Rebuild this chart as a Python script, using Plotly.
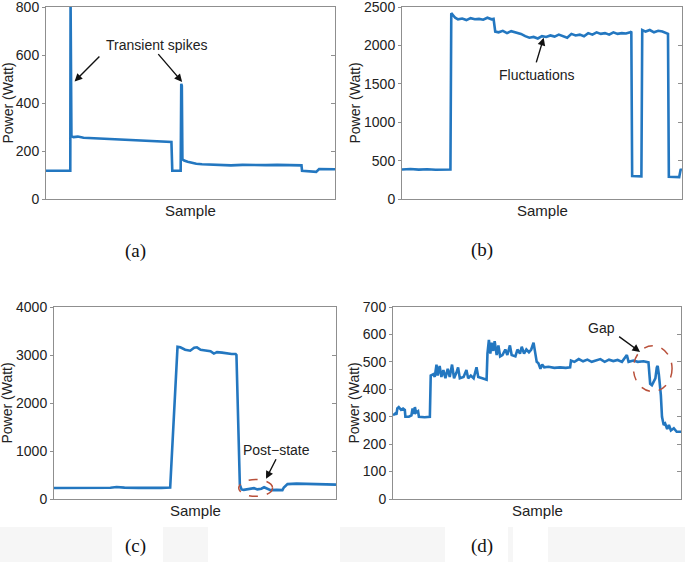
import plotly.graph_objects as go

W, H = 685, 562

# ---- data (sample index 0..1000, power in W) ----
a_x = [0, 84, 85, 86, 88, 95, 110, 130, 150, 170, 190, 210, 230, 250, 270, 290, 310, 330,
       350, 370, 390, 410, 434, 437, 466, 468, 470, 472, 478, 490, 505, 520, 540, 570, 600,
       640, 680, 720, 760, 800, 840, 884, 886, 930, 935, 945, 1000]
a_y = [118, 118, 830, 262, 262, 258, 260, 255, 254, 252, 250, 249, 247, 246, 248, 244, 246, 242,
       244, 241, 240, 240, 238, 118, 118, 480, 472, 165, 160, 155, 150, 147, 145, 143, 141,
       140, 142, 140, 141, 142, 141, 140, 118, 116, 113, 125, 124]

b_x = [0, 30, 60, 90, 120, 150, 173, 176, 180, 190, 200, 215, 230, 245, 260, 275, 290, 305,
       320, 327, 333, 345, 360, 375, 390, 411, 425, 440, 455, 470, 485, 500, 515, 530, 545,
       560, 575, 590, 605, 620, 635, 650, 665, 680, 695, 710, 725, 740, 755, 770, 785, 800,
       815, 819, 822, 855, 858, 870, 885, 900, 915, 930, 950, 953, 990, 995, 1000]
b_y = [385, 390, 382, 388, 380, 383, 385, 2420, 2400, 2360, 2340, 2350, 2330, 2355, 2340, 2345,
       2335, 2360, 2340, 2345, 2180, 2170, 2190, 2160, 2185, 2160, 2150, 2120, 2100, 2110, 2090,
       2120, 2110, 2130, 2115, 2140, 2120, 2100, 2150, 2130, 2140, 2120, 2160, 2140, 2170, 2150,
       2160, 2140, 2170, 2150, 2160, 2155, 2170, 2180, 300, 295, 2200, 2180, 2200, 2170, 2190,
       2180, 2150, 290, 285, 380, 385]

c_x = [0, 50, 100, 150, 200, 222, 250, 300, 350, 380, 412, 438, 448, 465, 483, 497, 507, 520,
       531, 545, 555, 567, 578, 596, 614, 630, 644, 647, 659, 665, 673, 690, 709, 721, 735,
       745, 758, 768, 790, 810, 815, 828, 860, 900, 950, 1000]
c_y = [230, 228, 232, 230, 235, 250, 238, 232, 228, 232, 240, 3170, 3160, 3110, 3090, 3150,
       3160, 3110, 3100, 3090, 3080, 3030, 3060, 3050, 3030, 3020, 3020, 3000, 300, 200, 190,
       210, 225, 200, 215, 245, 210, 185, 190, 185, 240, 310, 320, 315, 310, 300]

d_x = [0, 8, 12, 15, 20, 28, 35, 41, 43, 55, 64, 68, 72, 76, 80, 87, 90, 110, 128, 131, 140,
       145, 151, 155, 162, 168, 175, 182, 190, 197, 205, 212, 220, 226, 232, 245, 255, 261,
       270, 280, 290, 296, 310, 325, 328, 333, 338, 342, 348, 353, 360, 366, 372, 380, 390,
       397, 406, 412, 425, 432, 441, 447, 455, 463, 472, 480, 488, 493, 499, 505, 512, 518,
       525, 540, 560, 580, 600, 615, 618, 630, 645, 660, 675, 690, 705, 720, 735, 750, 765,
       780, 795, 812, 818, 835, 850, 870, 887, 893, 899, 905, 911, 916, 919, 923, 926, 930,
       934, 940, 945, 952, 958, 965, 975, 985, 1000]
d_y = [305, 312, 308, 330, 335, 325, 330, 325, 300, 300, 305, 330, 310, 335, 315, 320, 300,
       298, 300, 450, 455, 445, 490, 450, 485, 445, 470, 440, 475, 445, 490, 440, 460, 480,
       440, 445, 470, 440, 450, 440, 480, 445, 440, 435, 530, 580, 530, 570, 540, 575, 525,
       560, 520, 525, 545, 525, 560, 525, 520, 545, 530, 555, 530, 545, 535, 545, 570, 540,
       500, 495, 475, 490, 480, 482, 478, 480, 478, 480, 505, 500, 510, 502, 508, 500, 505,
       510, 500, 508, 503, 507, 500, 525, 500, 505, 500, 502, 498, 420, 415, 430, 440, 480,
       485, 455, 430, 380, 300, 270, 275, 255, 270, 250, 258, 245, 245]

y_tops = [800, 2500, 4000, 700]
y_ticks = [[0, 200, 400, 600, 800],
           [0, 500, 1000, 1500, 2000, 2500],
           [0, 1000, 2000, 3000, 4000],
           [0, 100, 200, 300, 400, 500, 600, 700]]
captions = ["(a)", "(b)", "(c)", "(d)"]

# plot boxes in pixels: left, right, top, bottom
boxes = [(46, 335, 7, 199), (402, 682, 7, 199), (54, 336, 307, 499), (393, 681, 307, 499)]

LINE = "#2377c0"
AXC = "#8f8f8f"
TXT = "#222222"
SANS = "Liberation Sans, Arial, sans-serif"
SERIF = "Liberation Serif, Times New Roman, serif"


def px_x(v):
    return v / W


def px_y(v):
    return 1 - v / H


def ptext(s, x, y, size, family=SANS, color=TXT, angle=0):
    # paper-positioned text, centred on the given pixel
    return dict(text=s, xref="paper", yref="paper", x=px_x(x), y=px_y(y),
                xanchor="center", yanchor="middle", textangle=angle, showarrow=False,
                font=dict(family=family, size=size, color=color))


fig = go.Figure()
series = [(a_x, a_y), (b_x, b_y), (c_x, c_y), (d_x, d_y)]
annotations = []
shapes = []

for i, ((xs, ys), (l, r, t, b)) in enumerate(zip(series, boxes)):
    n = "" if i == 0 else str(i + 1)
    rn = str(i + 5)  # overlay axis carrying the inward ticks on the right side
    fig.add_trace(go.Scatter(x=xs, y=ys, mode="lines", xaxis="x" + n, yaxis="y" + n,
                             line=dict(color=LINE, width=2.6), showlegend=False,
                             hoverinfo="skip"))
    # same series, invisible, just so the right-hand tick axis gets drawn
    fig.add_trace(go.Scatter(x=xs, y=ys, mode="lines", xaxis="x" + n, yaxis="y" + rn,
                             line=dict(width=0), opacity=0, showlegend=False,
                             hoverinfo="skip"))
    fig.update_layout({
        "xaxis" + n: dict(domain=[px_x(l), px_x(r)], range=[0, 1000], showticklabels=False,
                          ticks="", showgrid=False, zeroline=False, showline=True,
                          mirror=True, linecolor=AXC, linewidth=1, automargin=False,
                          anchor="y" + n),
        "yaxis" + n: dict(domain=[px_y(b), px_y(t)], range=[0, y_tops[i]],
                          tickvals=y_ticks[i], ticks="outside", ticklen=3, tickcolor=AXC,
                          showgrid=False, zeroline=False, showline=True, mirror=True,
                          linecolor=AXC, linewidth=1, anchor="x" + n, automargin=False,
                          ticklabeloverflow="allow",
                          tickfont=dict(family=SANS, size=14, color=TXT)),
        "yaxis" + rn: dict(range=[0, y_tops[i]], tickvals=y_ticks[i], ticks="inside",
                           ticklen=4, tickcolor=AXC, showticklabels=False, showline=False,
                           showgrid=False, zeroline=False, side="right",
                           overlaying="y" + n, anchor="x" + n, automargin=False),
    })
    annotations.append(ptext("Sample", (l + r) / 2, b + 11, 15))
    annotations.append(ptext("Power (Watt)", [7.5, 354.5, 6.5, 353.5][i], (t + b) / 2, 14,
                             angle=-90))
    annotations.append(ptext(captions[i], [135, 482, 135, 482][i], [251, 250, 546, 546][i],
                             19, family=SERIF, color="#111111"))

# faint strip at the bottom of the scan
shapes.append(dict(type="rect", xref="paper", yref="paper", x0=0, x1=1, y0=0,
                   y1=px_y(527), fillcolor="#f6f6f6", line=dict(width=0), layer="below"))
for x0, x1 in [(112, 163), (208, 340), (445, 508), (513, 548)]:
    shapes.append(dict(type="rect", xref="paper", yref="paper", x0=px_x(x0), x1=px_x(x1),
                       y0=0, y1=px_y(527), fillcolor="#ffffff", line=dict(width=0),
                       layer="below"))


def arrow(xr, yr, x, y, ax, ay):
    return dict(xref=xr, yref=yr, axref=xr, ayref=yr, x=x, y=y, ax=ax, ay=ay, text="",
                showarrow=True, arrowhead=2, arrowsize=1.1, arrowwidth=1.4,
                arrowcolor="#111111")


def label(xr, yr, x, y, s):
    return dict(xref=xr, yref=yr, x=x, y=y, text=s, showarrow=False,
                xanchor="center", yanchor="middle",
                font=dict(family=SANS, size=14, color=TXT))


annotations += [
    label("x", "y", 384, 640, "Transient spikes"),
    arrow("x", "y", 99, 490, 190, 600),
    arrow("x", "y", 471, 488, 384, 610),
    label("x2", "y2", 480, 1617, "Fluctuations"),
    arrow("x2", "y2", 506, 2100, 478, 1760),
    label("x3", "y3", 790, 1030, "Post\u2212state"),
    arrow("x3", "y3", 752, 420, 790, 860),
    label("x4", "y4", 725, 622, "Gap"),
    arrow("x4", "y4", 858, 536, 780, 596),
]

shapes += [
    dict(type="circle", xref="x3", yref="y3", x0=655, x1=775, y0=55, y1=405,
         line=dict(color="#b9503a", width=1.5, dash="dash")),
    dict(type="circle", xref="x4", yref="y4", x0=835, x1=969, y0=392, y1=559,
         line=dict(color="#b9503a", width=1.5, dash="dash")),
]

fig.update_layout(
    width=W, height=H,
    margin=dict(l=0, r=0, t=0, b=0),
    paper_bgcolor="white", plot_bgcolor="white",
    annotations=annotations, shapes=shapes,
    showlegend=False,
)

# the page's default body margin would push the figure 8px down/right
fig.write_html("out.html", config=dict(displayModeBar=False),
               post_script="document.body.style.margin='0';")
